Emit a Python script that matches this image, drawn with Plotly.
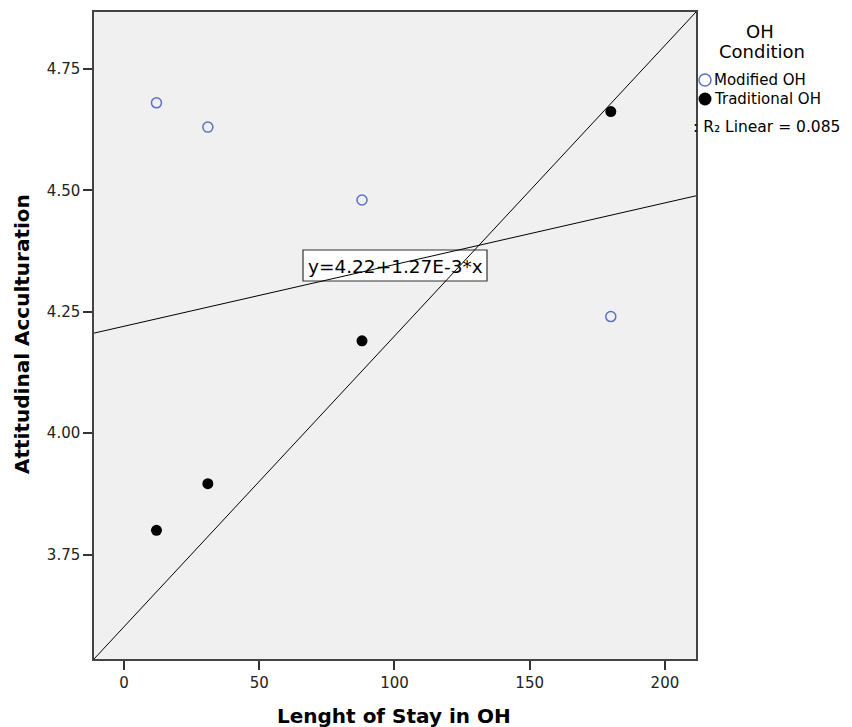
import plotly.graph_objects as go

# ---- data ----
modified_x = [12, 31, 88, 180]
modified_y = [4.68, 4.63, 4.48, 4.24]
traditional_x = [12, 31, 88, 180]
traditional_y = [3.80, 3.896, 4.19, 4.662]

fit_intercept = 4.22
fit_slope = 1.27e-3
fit_label = "y=4.22+1.27E-3*x"
r2_label = "R\u2082 Linear = 0.085"

x_range = [-11.1, 211.5]
y_range = [3.535, 4.867]
x_ticks = [0, 50, 100, 150, 200]
y_ticks = [3.75, 4.00, 4.25, 4.50, 4.75]
y_ticklabels = ["3.75", "4.00", "4.25", "4.50", "4.75"]

legend_title_lines = ["OH", "Condition"]
legend_names = ["Modified OH", "Traditional OH"]
x_title = "Lenght of Stay in OH"
y_title = "Attitudinal Acculturation"

FONT = "DejaVu Sans"
OFF = 8                      # page body margin
PL, PR, PT, PB = 94, 696, 12, 659   # plot area in window pixels
W, H = 852 - OFF, 727 - OFF
L, T = PL - OFF, PT - OFF
R, B = W - (PR - OFF), H - (PB - OFF)
PW, PH = PR - PL, PB - PT


def px(xp):
    return (xp - PL) / PW


def py(yp):
    return (PB - yp) / PH


fig = go.Figure()

# total fit line
fig.add_trace(go.Scatter(
    x=x_range, y=[fit_intercept + fit_slope * v for v in x_range],
    mode="lines", line=dict(color="black", width=1), showlegend=False, hoverinfo="skip"))

# diagonal reference line (corner to corner)
fig.add_trace(go.Scatter(
    x=x_range, y=y_range, mode="lines",
    line=dict(color="black", width=1), showlegend=False, hoverinfo="skip"))

fig.add_trace(go.Scatter(
    x=modified_x, y=modified_y, mode="markers", name=legend_names[0],
    marker=dict(symbol="circle-open", size=10, color="#5b6fc6", line=dict(width=1.5)),
    showlegend=False))
fig.add_trace(go.Scatter(
    x=traditional_x, y=traditional_y, mode="markers", name=legend_names[1],
    marker=dict(symbol="circle", size=11, color="black"),
    showlegend=False))

# fit label box
fig.add_shape(type="rect", xref="paper", yref="paper",
              x0=px(303), x1=px(487), y0=py(281), y1=py(250),
              fillcolor="white", line=dict(color="#333", width=1.2), layer="below")
fig.add_annotation(x=px(395), y=py(266), xref="paper", yref="paper",
                   xanchor="center", yanchor="middle",
                   text=fit_label, showarrow=False,
                   font=dict(family=FONT, size=18.5, color="black"))

# axis titles
fig.add_annotation(x=px(394), y=py(716), xref="paper", yref="paper",
                   xanchor="center", yanchor="middle",
                   text="<b>" + x_title + "</b>", showarrow=False,
                   font=dict(family=FONT, size=20, color="black"))
fig.add_annotation(x=px(22), y=py(334), xref="paper", yref="paper",
                   xanchor="center", yanchor="middle",
                   text="<b>" + y_title + "</b>", showarrow=False, textangle=-90,
                   font=dict(family=FONT, size=20, color="black"))

# custom legend
fig.add_annotation(x=px(760), y=py(31), xref="paper", yref="paper",
                   xanchor="center", yanchor="middle",
                   text=legend_title_lines[0], showarrow=False,
                   font=dict(family=FONT, size=18, color="black"))
fig.add_annotation(x=px(762), y=py(51), xref="paper", yref="paper",
                   xanchor="center", yanchor="middle",
                   text=legend_title_lines[1], showarrow=False,
                   font=dict(family=FONT, size=18, color="black"))
fig.add_shape(type="circle", xref="paper", yref="paper", xsizemode="pixel", ysizemode="pixel",
              xanchor=px(705), yanchor=py(80), x0=-6, x1=6, y0=-6, y1=6,
              line=dict(color="#5b6fc6", width=1.5), fillcolor="rgba(0,0,0,0)")
fig.add_shape(type="circle", xref="paper", yref="paper", xsizemode="pixel", ysizemode="pixel",
              xanchor=px(705), yanchor=py(99), x0=-6.5, x1=6.5, y0=-6.5, y1=6.5,
              line=dict(color="black", width=0), fillcolor="black")
fig.add_annotation(x=px(712), y=py(80), xref="paper", yref="paper",
                   xanchor="left", yanchor="middle",
                   text=legend_names[0], showarrow=False,
                   font=dict(family=FONT, size=15, color="black"))
fig.add_annotation(x=px(712), y=py(99), xref="paper", yref="paper",
                   xanchor="left", yanchor="middle",
                   text=legend_names[1], showarrow=False,
                   font=dict(family=FONT, size=15, color="black"))
fig.add_annotation(x=px(691), y=py(127), xref="paper", yref="paper",
                   xanchor="left", yanchor="middle",
                   text=": " + r2_label, showarrow=False,
                   font=dict(family=FONT, size=15.5, color="black"))

axis_common = dict(showline=True, linecolor="#444", linewidth=1.5, mirror=True,
                   ticks="outside", ticklen=9, tickcolor="#333", tickwidth=1.5,
                   showgrid=False, zeroline=False,
                   tickfont=dict(family=FONT, size=15, color="#222"))

fig.update_layout(
    width=W, height=H,
    margin=dict(l=L, r=R, t=T, b=B, autoexpand=False),
    plot_bgcolor="#f0f0f0", paper_bgcolor="white",
    xaxis=dict(range=x_range, tickvals=x_ticks, **axis_common),
    yaxis=dict(range=y_range, tickvals=y_ticks, ticktext=y_ticklabels, **axis_common),
    showlegend=False,
)

fig.write_html("out.html")
